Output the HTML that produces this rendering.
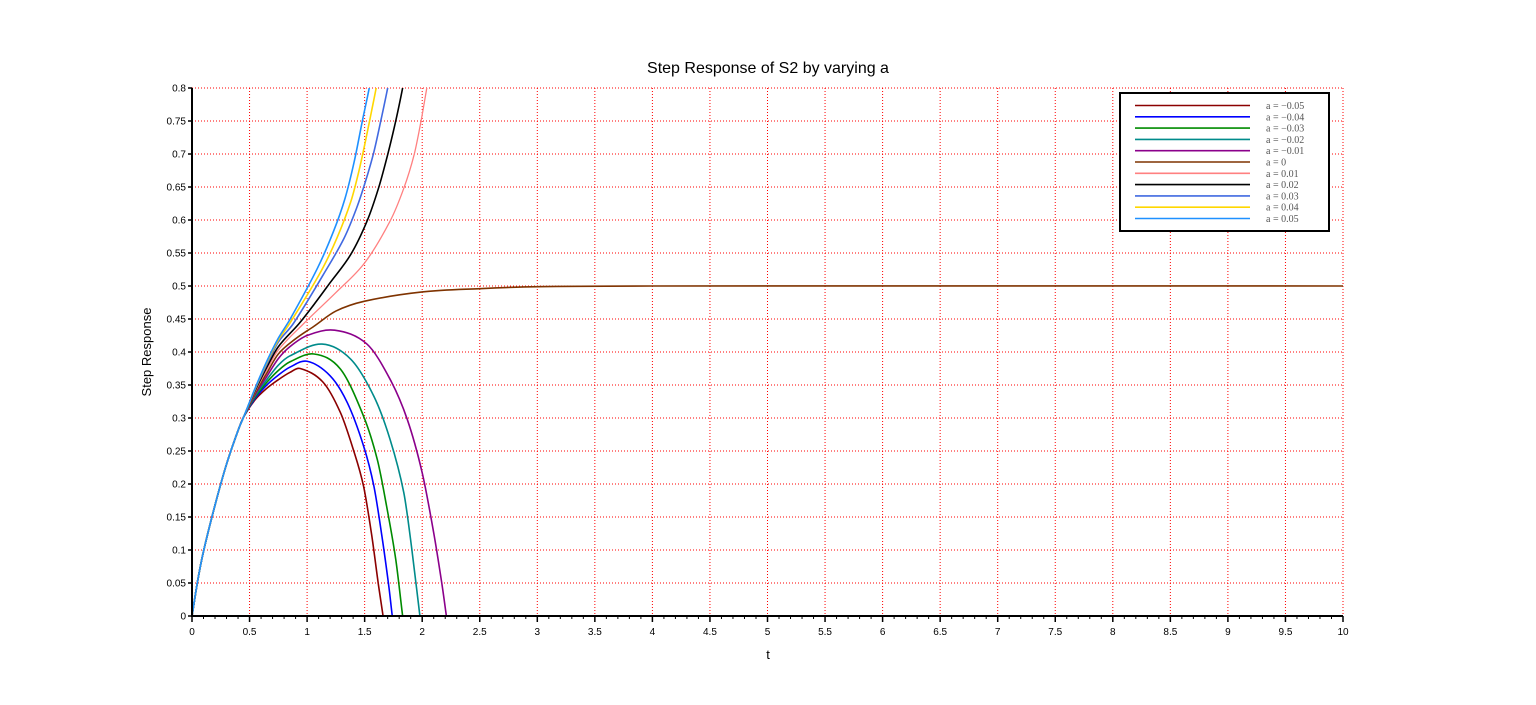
<!DOCTYPE html>
<html><head><meta charset="utf-8"><style>
html,body{margin:0;padding:0;background:#fff;}
svg{display:block;font-family:"Liberation Sans",sans-serif;}
</style></head><body>
<svg id="chart" width="1536" height="705" viewBox="0 0 1536 705">
<defs><clipPath id="plotclip"><rect x="192" y="88" width="1151" height="528"/></clipPath></defs>
<text x="768" y="73" text-anchor="middle" font-size="16">Step Response of S2 by varying a</text>
<text x="768" y="659" text-anchor="middle" font-size="13">t</text>
<text transform="translate(151,352) rotate(-90)" text-anchor="middle" font-size="13">Step Response</text>
<g id="grid"></g>
<g id="series" clip-path="url(#plotclip)"></g>
<g id="axes"></g>
<g id="legend"></g>
</svg>
<script>
const xTicks=[0,0.5,1,1.5,2,2.5,3,3.5,4,4.5,5,5.5,6,6.5,7,7.5,8,8.5,9,9.5,10];
const yTicks=[0,0.05,0.1,0.15,0.2,0.25,0.3,0.35,0.4,0.45,0.5,0.55,0.6,0.65,0.7,0.75,0.8];
const seriesLabels=["a = \u22120.05","a = \u22120.04","a = \u22120.03","a = \u22120.02","a = \u22120.01","a = 0","a = 0.01","a = 0.02","a = 0.03","a = 0.04","a = 0.05"];
const seriesColors=["#8b0000","#0000ff","#008b00","#008b8b","#8b008b","#7f3300","#ff8080","#000000","#4169e1","#ffd700","#1e90ff"];
const base=[[0,0],[0.05,0.054],[0.1,0.098],[0.2,0.168],[0.3,0.23],[0.4,0.281],[0.45,0.302]];
const sM05=[[0.55,0.328],[0.65,0.345],[0.75,0.358],[0.85,0.369],[0.94,0.375],[1.14,0.354],[1.29,0.308],[1.40,0.253],[1.49,0.197],[1.56,0.124],[1.62,0.047],[1.66,0],[1.69,-0.04]];
const sM04=[[0.55,0.33],[0.65,0.35],[0.75,0.365],[0.85,0.377],[1.0,0.386],[1.2,0.364],[1.35,0.323],[1.49,0.258],[1.58,0.197],[1.65,0.121],[1.71,0.045],[1.74,0],[1.77,-0.04]];
const sM03=[[0.55,0.332],[0.65,0.354],[0.75,0.372],[0.85,0.385],[1.06,0.397],[1.29,0.374],[1.49,0.303],[1.61,0.237],[1.69,0.167],[1.77,0.086],[1.83,0],[1.86,-0.04]];
const sM02=[[0.55,0.334],[0.65,0.358],[0.75,0.38],[0.85,0.394],[1.13,0.412],[1.38,0.389],[1.58,0.333],[1.72,0.268],[1.84,0.187],[1.91,0.101],[1.98,0],[2.01,-0.04]];
const sM01=[[0.55,0.336],[0.65,0.363],[0.75,0.39],[0.85,0.408],[1.0,0.425],[1.24,0.433],[1.52,0.412],[1.72,0.359],[1.87,0.298],[2.0,0.217],[2.1,0.126],[2.17,0.05],[2.21,0],[2.24,-0.04]];
const s0=[[0.55,0.338],[0.65,0.368],[0.75,0.397],[0.9,0.42],[1.06,0.439],[1.25,0.462],[1.5,0.477],[2.0,0.491],[2.5,0.496],[3,0.499],[4,0.5],[10,0.5]];
const sP01=[[0.55,0.34],[0.65,0.373],[0.75,0.403],[0.97,0.443],[1.25,0.49],[1.5,0.535],[1.72,0.598],[1.84,0.648],[1.93,0.699],[1.99,0.75],[2.04,0.8],[2.07,0.83]];
const sP02=[[0.55,0.342],[0.65,0.377],[0.75,0.408],[0.93,0.443],[1.06,0.472],[1.2,0.505],[1.38,0.548],[1.52,0.598],[1.62,0.648],[1.70,0.699],[1.77,0.75],[1.83,0.8],[1.86,0.83]];
const sP03=[[0.55,0.344],[0.65,0.381],[0.75,0.415],[0.88,0.443],[1.14,0.517],[1.32,0.572],[1.43,0.618],[1.51,0.66],[1.58,0.703],[1.64,0.75],[1.70,0.8],[1.73,0.83]];
const sP04=[[0.55,0.345],[0.65,0.384],[0.75,0.418],[0.855,0.445],[1.12,0.522],[1.26,0.573],[1.38,0.628],[1.45,0.674],[1.51,0.722],[1.56,0.765],[1.60,0.8],[1.63,0.83]];
const sP05=[[0.55,0.346],[0.65,0.386],[0.75,0.421],[0.85,0.449],[1.09,0.527],[1.23,0.583],[1.33,0.633],[1.41,0.689],[1.48,0.75],[1.54,0.8],[1.57,0.83]];
const seriesData=[sM05,sM04,sM03,sM02,sM01,s0,sP01,sP02,sP03,sP04,sP05];

const NS="http://www.w3.org/2000/svg";
const X0=192,X1=1343,Y0=616,Y1=88;
function xs(t){return X0+(t-0)/(10-0)*(X1-X0);}
function ys(v){return Y0-(v-0)/(0.8-0)*(Y0-Y1);}
function mk(tag,attrs,parent){const e=document.createElementNS(NS,tag);for(const k in attrs)e.setAttribute(k,attrs[k]);parent.appendChild(e);return e;}
const grid=document.getElementById('grid'),axes=document.getElementById('axes'),ser=document.getElementById('series'),leg=document.getElementById('legend');
xTicks.forEach(t=>{
  const l=mk('line',{x1:xs(t),x2:xs(t),y1:Y1,y2:Y0,stroke:'#ff0000','stroke-width':1,'stroke-dasharray':'1,2'},grid);
  
  
  const tk=mk('line',{x1:xs(t),x2:xs(t),y1:Y0,y2:Y0+6,stroke:'#000','stroke-width':1.5},axes);
  
  
  const tx=mk('text',{x:xs(t),y:Y0+19,'text-anchor':'middle','font-size':10},axes);
  tx.textContent=String(t);
  
  
});
for(let i=0;i<=100;i++){const t=i/10;if(i%5===0)continue;
  const m=mk('line',{x1:xs(t),x2:xs(t),y1:Y0,y2:Y0+3,stroke:'#000','stroke-width':1},axes);
  
  
}
yTicks.forEach(v=>{
  const l=mk('line',{x1:X0,x2:X1,y1:ys(v),y2:ys(v),stroke:'#ff0000','stroke-width':1,'stroke-dasharray':'1,2'},grid);
  
  
  const tk=mk('line',{x1:X0-4,x2:X0,y1:ys(v),y2:ys(v),stroke:'#000','stroke-width':1.5},axes);
  
  
  const tx=mk('text',{x:X0-6,y:ys(v)+3.5,'text-anchor':'end','font-size':10},axes);
  tx.textContent=String(v);
  
  
});
const ax=mk('path',{d:`M${X0},${Y1} L${X0},${Y0} L${X1},${Y0}`,fill:'none',stroke:'#000','stroke-width':2},axes);



function hermitePath(pts){
  const n=pts.length,m=[];
  for(let i=0;i<n;i++){
    const a=pts[Math.max(0,i-1)],b=pts[Math.min(n-1,i+1)];
    m.push((b[1]-a[1])/(b[0]-a[0]));
  }
  let d=`M${pts[0][0].toFixed(2)},${pts[0][1].toFixed(2)}`;
  for(let i=0;i<n-1;i++){
    const p1=pts[i],p2=pts[i+1],h=p2[0]-p1[0];
    d+=` C${(p1[0]+h/3).toFixed(2)},${(p1[1]+m[i]*h/3).toFixed(2)} ${(p2[0]-h/3).toFixed(2)},${(p2[1]-m[i+1]*h/3).toFixed(2)} ${p2[0].toFixed(2)},${p2[1].toFixed(2)}`;
  }
  return d;
}
seriesData.forEach((s,i)=>{
  const pts=base.concat(s).map(p=>[xs(p[0]),ys(p[1])]);
  const p=mk('path',{d:hermitePath(pts),fill:'none',stroke:seriesColors[i],'stroke-width':(i===6?1.3:1.6)},ser);
  
  
});
const box=mk('rect',{x:1120,y:93,width:209,height:138,fill:'#fff',stroke:'#000','stroke-width':2},leg);


seriesLabels.forEach((lab,i)=>{
  const y=105.5+i*11.3;
  const l=mk('line',{x1:1135,x2:1250,y1:y,y2:y,stroke:seriesColors[i],'stroke-width':1.6},leg);
  
  
  const t=mk('text',{x:1266,y:y+3.5,'font-size':10,fill:'#555','font-family':'"Liberation Serif",serif'},leg);
  t.textContent=lab;
  
  
});
</script>
</body></html>
